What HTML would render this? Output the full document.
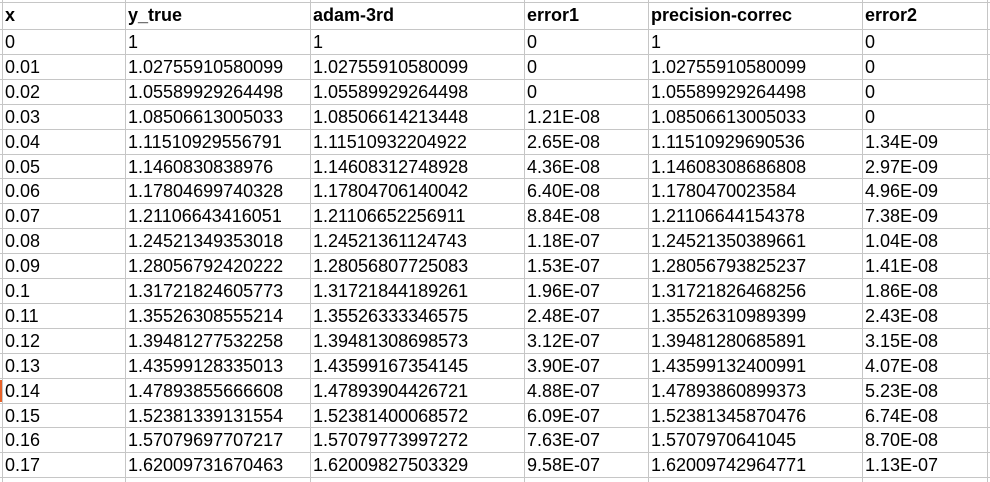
<!DOCTYPE html>
<html><head><meta charset="utf-8"><style>
html,body{margin:0;width:990px;height:482px;overflow:hidden}
body{background:#fff;font-family:"Liberation Sans",sans-serif;position:relative}
.h{position:absolute;left:0;width:990px;height:1px;background:#c6c6c6}
.v{position:absolute;top:0;height:482px;width:1px;background:#c6c6c6}
.c{position:absolute;font-size:18px;color:#000;white-space:nowrap;line-height:24px}
.b{font-weight:bold}
</style></head><body>
<div style="position:absolute;left:0;top:380px;width:2px;height:22px;background:#e8632a"></div>
<script>
const headers=["x","y_true","adam-3rd","error1","precision-correc","error2"];
const rows=[
["0","1","1","0","1","0"],
["0.01","1.02755910580099","1.02755910580099","0","1.02755910580099","0"],
["0.02","1.05589929264498","1.05589929264498","0","1.05589929264498","0"],
["0.03","1.08506613005033","1.08506614213448","1.21E-08","1.08506613005033","0"],
["0.04","1.11510929556791","1.11510932204922","2.65E-08","1.11510929690536","1.34E-09"],
["0.05","1.1460830838976","1.14608312748928","4.36E-08","1.14608308686808","2.97E-09"],
["0.06","1.17804699740328","1.17804706140042","6.40E-08","1.1780470023584","4.96E-09"],
["0.07","1.21106643416051","1.21106652256911","8.84E-08","1.21106644154378","7.38E-09"],
["0.08","1.24521349353018","1.24521361124743","1.18E-07","1.24521350389661","1.04E-08"],
["0.09","1.28056792420222","1.28056807725083","1.53E-07","1.28056793825237","1.41E-08"],
["0.1","1.31721824605773","1.31721844189261","1.96E-07","1.31721826468256","1.86E-08"],
["0.11","1.35526308555214","1.35526333346575","2.48E-07","1.35526310989399","2.43E-08"],
["0.12","1.39481277532258","1.39481308698573","3.12E-07","1.39481280685891","3.15E-08"],
["0.13","1.43599128335013","1.43599167354145","3.90E-07","1.43599132400991","4.07E-08"],
["0.14","1.47893855666608","1.47893904426721","4.88E-07","1.47893860899373","5.23E-08"],
["0.15","1.52381339131554","1.52381400068572","6.09E-07","1.52381345870476","6.74E-08"],
["0.16","1.57079697707217","1.57079773997272","7.63E-07","1.5707970641045","8.70E-08"],
["0.17","1.62009731670463","1.62009827503329","9.58E-07","1.62009742964771","1.13E-07"]];
const colX=[2,125,310,524,648,862,987];
const rowY=[2,29];
for(let i=1;i<=rows.length;i++)rowY.push(29+i*24.9);
const B=document.body;
rowY.forEach(y=>{const d=document.createElement('div');d.className='h';d.style.top=Math.round(y)+'px';

B.appendChild(d);});
colX.forEach(x=>{const d=document.createElement('div');d.className='v';d.style.left=x+'px';

B.appendChild(d);});
headers.forEach((h,j)=>{const d=document.createElement('div');d.className='c b';d.textContent=h;
d.style.left=(colX[j]+3)+'px';d.style.top='3px';

B.appendChild(d);});
rows.forEach((r,i)=>r.forEach((v,j)=>{const d=document.createElement('div');d.className='c';d.textContent=v;
d.style.left=(colX[j]+3)+'px';d.style.top=Math.round(29+i*24.9+1)+'px';

B.appendChild(d);}));
</script>
</body></html>
